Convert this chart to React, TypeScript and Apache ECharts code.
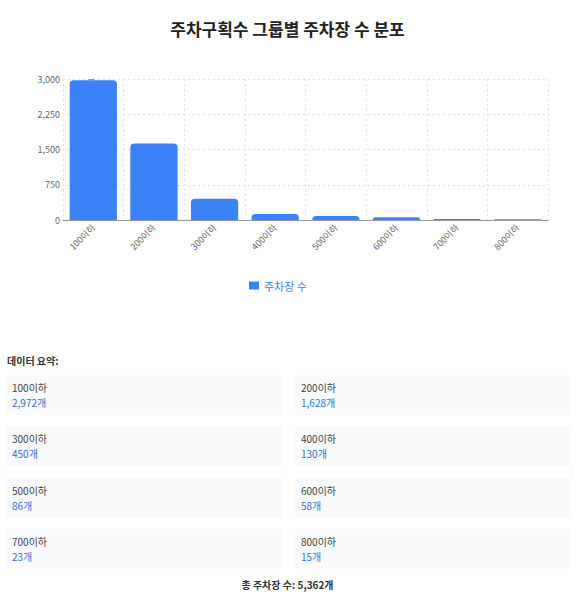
import { useEffect, useRef } from 'react';
import * as echarts from 'echarts';

const categories = ['100이하', '200이하', '300이하', '400이하', '500이하', '600이하', '700이하', '800이하'];
const parkingCounts = [2972, 1628, 450, 130, 86, 58, 23, 15];
const seriesName = '주차장 수';
const chartTitle = '주차구획수 그룹별 주차장 수 분포';

const FONT = '"Noto Sans CJK KR", "Noto Sans", sans-serif';

function ParkingChart() {
  const chartRef = useRef<HTMLDivElement>(null);

  useEffect(() => {
    if (!chartRef.current) return;
    const chart = echarts.init(chartRef.current, null, { renderer: 'svg' });

    const option: echarts.EChartsOption = {
      animation: false,
      textStyle: { fontFamily: FONT },
      title: {
        text: chartTitle,
        left: 'center',
        top: 20,
        padding: 0,
        textStyle: { fontSize: 17, fontWeight: 'bold', color: '#222', fontFamily: FONT },
      },
      legend: {
        data: [seriesName],
        left: 249,
        top: 280,
        padding: 0,
        icon: 'rect',
        itemWidth: 10,
        itemHeight: 8,
        itemGap: 4,
        textStyle: { fontSize: 11, color: '#3b82f6', fontFamily: FONT },
      },
      grid: { left: 63, right: 27, top: 79, bottom: 110 },
      xAxis: [
        {
          type: 'category',
          data: categories,
          axisLine: { lineStyle: { color: '#999' } },
          axisTick: { alignWithLabel: true, length: 5, lineStyle: { color: '#999' } },
          axisLabel: { rotate: 45, fontSize: 9, color: '#666', margin: 6 },
          splitLine: { show: false },
        },
        {
          // grid lines through the category centres
          type: 'value',
          min: -0.5,
          max: 7.5,
          interval: 1,
          position: 'bottom',
          axisLine: { show: false },
          axisTick: { show: false },
          axisLabel: { show: false },
          splitLine: { show: true, lineStyle: { color: '#e0e0e0', type: [2, 3] } },
        },
      ],
      yAxis: {
        type: 'value',
        min: 0,
        max: 3000,
        interval: 750,
        axisLine: { show: true, lineStyle: { color: '#999' } },
        axisTick: { show: true, length: 5, lineStyle: { color: '#999' } },
        axisLabel: { fontSize: 9, color: '#666', margin: 3 },
        splitLine: { lineStyle: { color: '#e0e0e0', type: [2, 3] } },
      },
      series: [
        {
          name: seriesName,
          type: 'bar',
          xAxisIndex: 0,
          data: parkingCounts,
          barWidth: '78%',
          itemStyle: { color: '#3b82f6', borderRadius: [4, 4, 0, 0] },
        },
      ],
    };

    chart.setOption(option);
    return () => {
      chart.dispose();
    };
  }, []);

  return <div ref={chartRef} style={{ width: '575px', height: '330px' }} />;
}

export default function App() {
  const total = parkingCounts.reduce((a, b) => a + b, 0);

  return (
    <div style={{ position: 'absolute', left: 0, top: 0, width: 575, fontFamily: FONT }}>
      <ParkingChart />
      <div style={{ position: 'absolute', left: 7, top: 354, fontSize: 10, fontWeight: 'bold', color: '#333', lineHeight: '14px' }}>
        데이터 요약:
      </div>
      {categories.map((cat, i) => {
        const col = i % 2;
        const row = Math.floor(i / 2);
        return (
          <div
            key={cat}
            style={{
              position: 'absolute',
              left: col === 0 ? 6 : 295,
              top: 375 + row * 51.3,
              width: 276,
              height: 40,
              background: '#f8fafc',
              borderRadius: 3,
              boxSizing: 'border-box',
              padding: '5px 6px',
              fontSize: 10,
              lineHeight: '15px',
            }}
          >
            <div style={{ color: '#444' }}>{cat}</div>
            <div style={{ color: '#2f6fde' }}>{parkingCounts[i].toLocaleString('en-US')}개</div>
          </div>
        );
      })}
      <div
        style={{
          position: 'absolute',
          left: 0,
          top: 578,
          width: 575,
          textAlign: 'center',
          fontSize: 10,
          fontWeight: 'bold',
          color: '#333',
          lineHeight: '14px',
        }}
      >
        총 주차장 수: {total.toLocaleString('en-US')}개
      </div>
    </div>
  );
}
